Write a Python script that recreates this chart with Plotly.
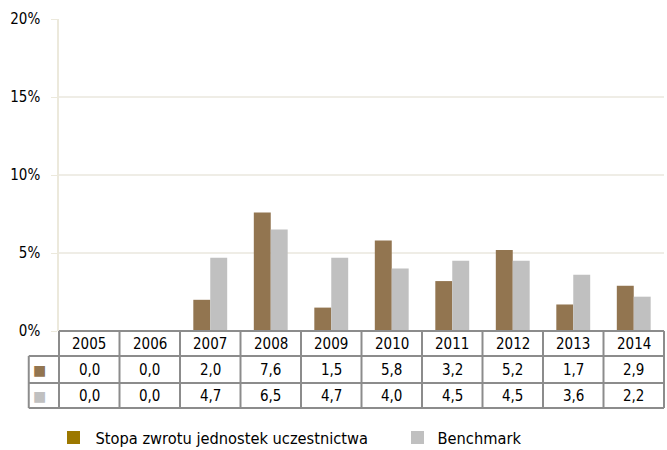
import plotly.graph_objects as go

years = ["2005", "2006", "2007", "2008", "2009", "2010", "2011", "2012", "2013", "2014"]
fund = [0.0, 0.0, 2.0, 7.6, 1.5, 5.8, 3.2, 5.2, 1.7, 2.9]
bench = [0.0, 0.0, 4.7, 6.5, 4.7, 4.0, 4.5, 4.5, 3.6, 2.2]
names = ["Stopa zwrotu jednostek uczestnictwa", "Benchmark"]
bar_colors = ["#927550", "#C0C0C0"]
legend_colors = ["#9C7800", "#C0C0C0"]

FONT = "DejaVu Sans Condensed"
W, H = 667, 450
ML, MR, MT, MB = 59, 3, 19, 119
PH = H - MT - MB
PW = W - ML - MR
n = len(years)

def py(px):
    return (MT + PH - px) / PH

def pxp(px):
    return (px - ML) / PW

def cx(i):
    # paper x of category index i (axis range is [-0.5, n-0.5])
    return (i + 0.5) / n

fig = go.Figure()
for vals, name, c in zip([fund, bench], names, bar_colors):
    fig.add_trace(go.Bar(x=years, y=[v / 100 for v in vals], name=name, hoverinfo="skip",
                         marker=dict(color=c, line=dict(width=0)), showlegend=False))
for k, (name, c) in enumerate(zip(names, legend_colors)):
    fig.add_trace(go.Scatter(x=[None], y=[None], mode="markers", name=name,
                             legend="legend" if k == 0 else "legend2",
                             marker=dict(symbol="square", size=13, color=c)))

shapes = []
border = dict(color="#8C8C8C", width=2)
rows_y = [py(331), py(356), py(383), py(408)]
shapes.append(dict(type="line", xref="paper", yref="paper", x0=cx(-0.5), x1=cx(n - 0.5),
                   y0=rows_y[0], y1=rows_y[0], line=border))
for yy in rows_y[1:]:
    shapes.append(dict(type="line", xref="paper", yref="paper", x0=cx(-1.0), x1=cx(n - 0.5),
                       y0=yy, y1=yy, line=border))
shapes.append(dict(type="line", xref="paper", yref="paper", x0=cx(-1.0), x1=cx(-1.0),
                   y0=rows_y[1], y1=rows_y[3], line=border))
for i in range(n + 1):
    shapes.append(dict(type="line", xref="paper", yref="paper", x0=cx(i - 0.5), x1=cx(i - 0.5),
                       y0=rows_y[0], y1=rows_y[3], line=border))

ann = []
row_centers = [(rows_y[0] + rows_y[1]) / 2, (rows_y[1] + rows_y[2]) / 2, (rows_y[2] + rows_y[3]) / 2]
tfont = dict(family=FONT, size=15, color="#000000")
for i, yr in enumerate(years):
    ann.append(dict(x=cx(i), y=row_centers[0], xref="paper", yref="paper", text=yr,
                    xanchor="center", yanchor="middle", showarrow=False, font=tfont))
    for r, vals in enumerate([fund, bench]):
        ann.append(dict(x=cx(i), y=row_centers[r + 1], xref="paper", yref="paper",
                        xanchor="center", yanchor="middle",
                        text=f"{vals[i]:.1f}".replace(".", ","), showarrow=False, font=tfont))
for r, c in enumerate(bar_colors):
    ann.append(dict(x=cx(-0.82), y=row_centers[r + 1], xref="paper", yref="paper", text="■",
                    xanchor="center", yanchor="middle",
                    showarrow=False, font=dict(family="DejaVu Sans", size=14, color=c)))

fig.update_layout(
    width=W, height=H,
    margin=dict(l=ML, r=MR, t=MT, b=MB, autoexpand=False),
    paper_bgcolor="white", plot_bgcolor="white",
    barmode="group", bargap=0.44, bargroupgap=0,
    font=dict(family=FONT, size=15, color="#000000"),
    shapes=shapes, annotations=ann,
    xaxis=dict(type="category", showticklabels=False, showgrid=False, zeroline=False,
               showline=False, ticks="", range=[-0.5, n - 0.5], automargin=False),
    yaxis=dict(range=[0, 0.2], dtick=0.05, tickformat=".0%", showgrid=True,
               gridcolor="#EFEDE6", gridwidth=1.5, zeroline=False, showline=True,
               linecolor="#ECE9DC", linewidth=1.5, ticks="outside", ticklen=6,
               tickcolor="#ECE9DC", ticklabelstandoff=8, automargin=False,
               tickfont=dict(family=FONT, size=15, color="#000000")),
    legend=dict(orientation="h", x=pxp(51.5), xanchor="left", y=py(438), yanchor="middle",
                itemwidth=34, font=dict(family=FONT, size=16.3), bgcolor="rgba(0,0,0,0)"),
    legend2=dict(orientation="h", x=pxp(397.5), xanchor="left", y=py(438), yanchor="middle",
                 itemwidth=30, font=dict(family=FONT, size=16.3), bgcolor="rgba(0,0,0,0)"),
)

fig.write_html("out.html", config={"displayModeBar": False},
               post_script="document.body.style.margin='0px';")
